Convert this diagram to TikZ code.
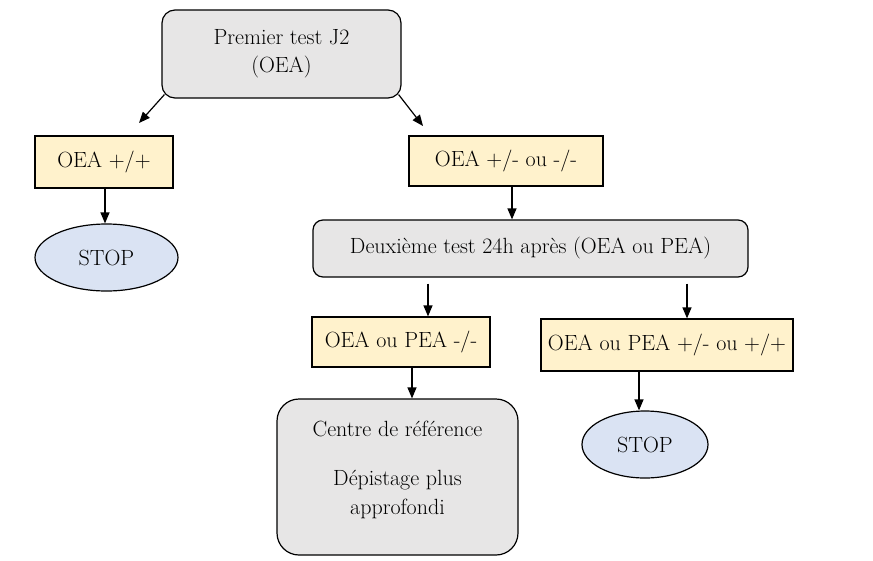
\documentclass[tikz,border=0pt]{standalone}
\usetikzlibrary{shapes.geometric,arrows.meta}
\definecolor{yel}{HTML}{FFF2CC}
\definecolor{gry}{HTML}{E7E6E6}
\definecolor{blu}{HTML}{DAE3F3}
\begin{document}
\begin{tikzpicture}[x=1pt,y=-1pt,
  every node/.style={font=\fontsize{22}{29}\selectfont, inner sep=0pt, align=center},
  testbox/.style={draw, line width=1.2pt, fill=gry, rounded corners=13pt},
  resbox/.style={draw, line width=1.2pt, fill=yel},
  stopell/.style={draw, line width=1.2pt, fill=blu, ellipse},
  arr/.style={line width=1.2pt, -{Triangle[length=11pt,width=9pt]}}]
\useasboundingbox (0,0) rectangle (873,560);
\node[testbox, minimum width=239pt, minimum height=88pt] (t1) at (281.5,54) {Premier test J2\\[-1pt](OEA)};
\node[resbox, minimum width=138pt, minimum height=52pt] (r1) at (104,162) {OEA +/+};
\node[resbox, minimum width=194pt, minimum height=50pt] (r2) at (506,161) {OEA +/- ou -/-};
\node[stopell, minimum width=143pt, minimum height=67pt] (s1) at (106.5,257.5) {STOP};
\node[testbox, rounded corners=10pt, minimum width=435pt, minimum height=57pt] (t2) at (530.5,248.5) {Deuxième test 24h après (OEA ou PEA)};
\node[resbox, minimum width=178pt, minimum height=50pt] (r3) at (401,342) {OEA ou PEA -/-};
\node[resbox, minimum width=252pt, minimum height=52pt] (r4) at (667,345) {OEA ou PEA +/- ou +/+};
\node[testbox, rounded corners=22pt, minimum width=241pt, minimum height=156pt] (c) at (397.5,477) {};
\node (ctext) at (397.5,470) {Centre de référence\\[20pt]Dépistage plus\\approfondi};
\node[stopell, minimum width=126pt, minimum height=67pt] (s2) at (645,444.5) {STOP};
\coordinate (e1) at (139,123);
\coordinate (e2) at (423,126);
\draw[arr] (t1.south west) ++(3,-4) -- (e1);
\draw[arr] (t1.south east) ++(-3,-4) -- (e2);
\draw[arr] (r1.south -| 105,0) -- (s1.north -| 105,0);
\draw[arr] (r2.south -| 512,0) -- (t2.north -| 512,0);
\draw[arr] (t2.south -| 428,0) ++(0,6) -- (r3.north -| 428,0);
\draw[arr] (t2.south -| 687,0) ++(0,6) -- (r4.north -| 687,0);
\draw[arr] (r3.south -| 412,0) -- (c.north -| 412,0);
\draw[arr] (r4.south -| 639,0) -- (s2.north -| 639,0);
\end{tikzpicture}
\end{document}
